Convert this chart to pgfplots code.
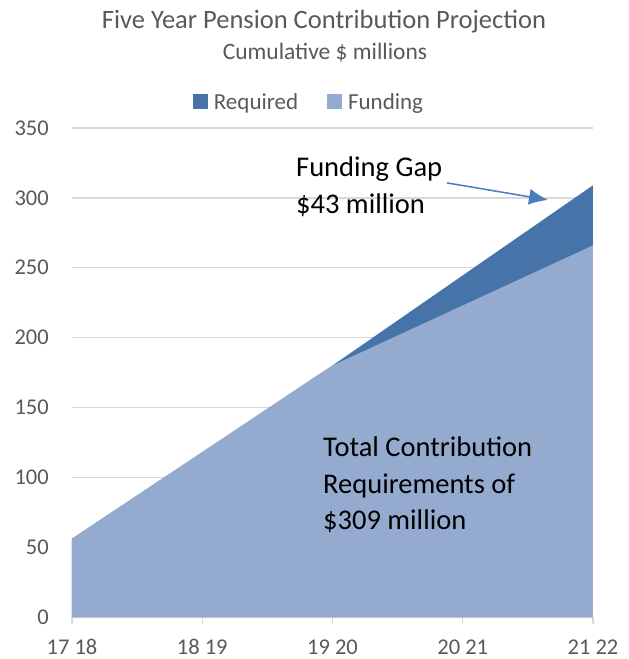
\documentclass[border=0pt]{standalone}
\usepackage{pgfplots}
\pgfplotsset{compat=1.18}
\usetikzlibrary{arrows.meta}
\usepackage{fontspec}
\setmainfont{Carlito}
\definecolor{reqcol}{HTML}{4673A8}
\definecolor{funcol}{HTML}{95AACF}
\definecolor{gridc}{HTML}{D9D9D9}
\definecolor{txtc}{HTML}{595959}
\definecolor{arrc}{HTML}{4A7CC0}
\begin{document}
\begin{tikzpicture}
\path[use as bounding box] (-72pt,-42pt) rectangle (557pt,617pt);
\begin{axis}[
  at={(0pt,0pt)}, anchor=origin,
  scale only axis,
  width=521pt, height=489pt,
  xmin=0, xmax=4, ymin=0, ymax=350,
  xtick={0,1,2,3,4},
  xticklabels={17 18,18 19,19 20,20 21,21 22},
  ytick={0,50,100,150,200,250,300,350},
  /pgf/number format/assume math mode=true,
  ymajorgrids,
  major grid style={gridc, line width=1.3pt},
  axis x line*=bottom, axis y line*=left,
  x axis line style={gridc, line width=1.3pt, -},
  y axis line style={draw=none},
  ytick style={draw=none},
  xtick style={gridc, line width=1.3pt},
  tick align=outside,
  major tick length=7pt,
  ticklabel style={font=\fontsize{22.5}{27}\selectfont, text=txtc},
  yticklabel style={anchor=east, inner sep=0pt, xshift=-16pt},
  xticklabel style={anchor=base, inner sep=0pt, yshift=-30pt},
  legend columns=2,
  legend style={at={(237pt,515pt)}, anchor=center, draw=none, fill=none,
    font=\fontsize{23}{27}\selectfont, text=txtc,
    /tikz/every even column/.append style={column sep=27pt}},
  legend image code/.code={\fill[#1] (0pt,-7pt) rectangle (15pt,8pt); \path (19pt,0pt);},
  clip=false,
]
\addplot[fill=reqcol, draw=none] coordinates {(0,56) (1,118) (2,180) (3,244.5) (4,309)} \closedcycle;
\addlegendentry{Required}
\addplot[fill=funcol, draw=none] coordinates {(0,56) (1,118) (2,180) (3,223) (4,266)} \closedcycle;
\addlegendentry{Funding}
\draw[arrc, line width=1.5pt, -{Latex[length=19pt,width=16pt]}] (axis cs:2.879,310.7) -- (axis cs:3.655,298.5);
\end{axis}
\node[anchor=base, text=txtc, font=\fontsize{26.5}{30}\selectfont, inner sep=0pt] at (252pt,588pt) {Five Year Pension Contribution Projection};
\node[anchor=base, text=txtc, font=\fontsize{23.5}{28}\selectfont, inner sep=0pt] at (253pt,557pt) {Cumulative \$ millions};
\node[anchor=base west, font=\fontsize{28.5}{34}\selectfont, inner sep=0pt] at (224pt,440pt) {Funding Gap};
\node[anchor=base west, font=\fontsize{28.5}{34}\selectfont, inner sep=0pt] at (224pt,403pt) {\$43 million};
\node[anchor=base west, font=\fontsize{28.5}{34}\selectfont, inner sep=0pt] at (251pt,160pt) {Total Contribution};
\node[anchor=base west, font=\fontsize{28.5}{34}\selectfont, inner sep=0pt] at (251pt,123pt) {Requirements of};
\node[anchor=base west, font=\fontsize{28.5}{34}\selectfont, inner sep=0pt] at (251pt,87pt) {\$309 million};
\end{tikzpicture}
\end{document}
